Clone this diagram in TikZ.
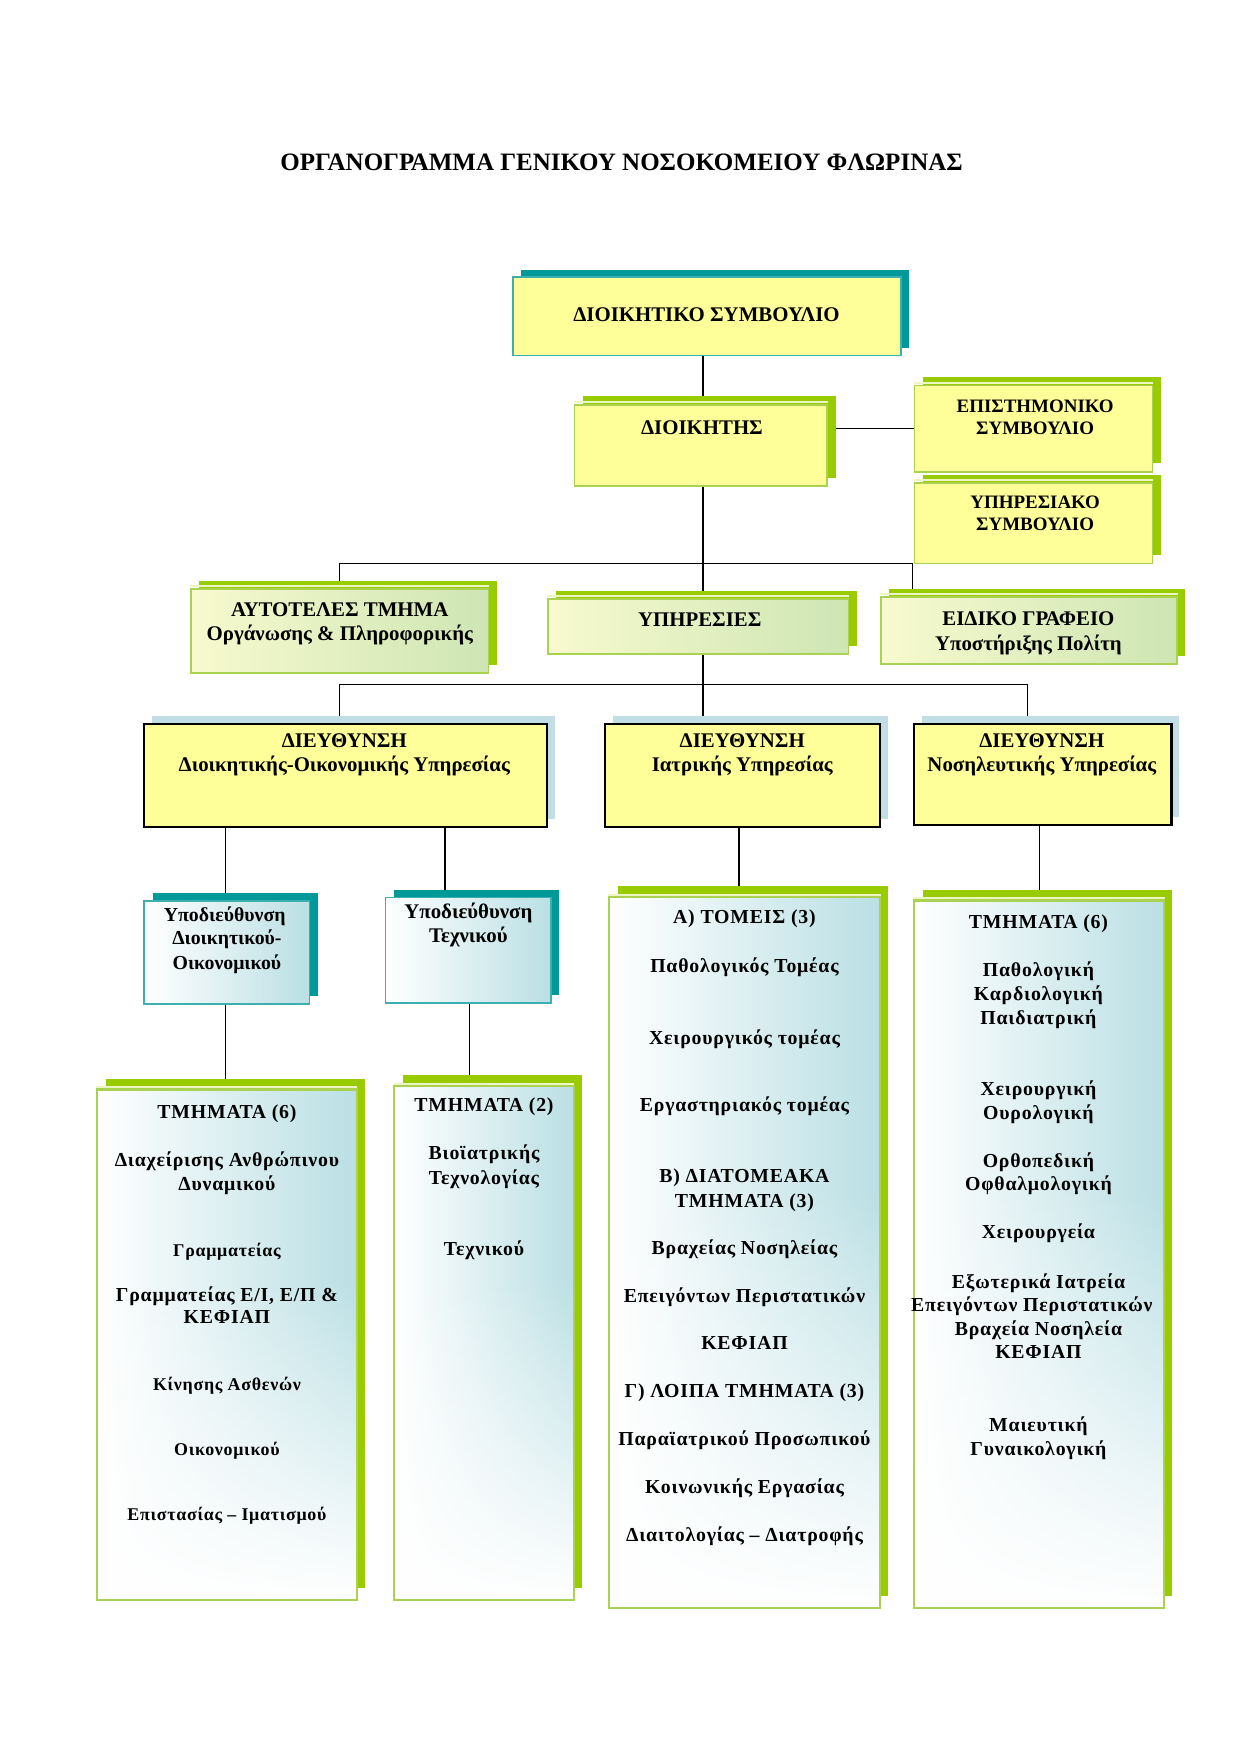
\documentclass[tikz,border=0pt]{standalone}
\usepackage{fontspec}
\setmainfont{Liberation Serif}
\newfontfamily\lowf[LetterSpace=4]{Liberation Serif}
\usetikzlibrary{shadows,fit,fadings,calc}
\pgfdeclarelayer{background}
\pgfsetlayers{background,main}
\definecolor{yel}{RGB}{255,255,153}
\definecolor{tealS}{RGB}{0,153,153}
\definecolor{tealB}{RGB}{60,175,175}
\definecolor{grnS}{RGB}{153,204,0}
\definecolor{grnB}{RGB}{170,210,80}
\definecolor{bluS}{RGB}{192,222,228}
\definecolor{lblue}{RGB}{186,223,228}
\definecolor{pyel}{RGB}{247,250,206}
\definecolor{pgrn}{RGB}{206,229,180}
\definecolor{pale}{RGB}{236,246,196}
\newcounter{tc}
\newcommand\tx[4][]{\stepcounter{tc}\node[txt,#1] (t\arabic{tc}) at (#2,#3) {#4};}
\newcommand\bx[6]{\node[fit={(#2,#3) (#4,#5)}, inner sep=0pt, #6] (#1) {};}
\newcommand\paletop[1]{\draw[pale, line width=1pt] ([yshift=0.95pt]#1.north west) -- ([yshift=0.95pt]#1.north east);}
\newcommand\fadeover[1]{\fill[white, path fading=north] ($(#1.south west)+(1.5,-1.5)$) rectangle ($(#1.east)+(-1.5,-60)$);
  \draw[grnB, line width=0.8pt] (#1.south west) rectangle (#1.north east);}
\begin{document}
\begin{tikzpicture}[x=0.5363pt,y=-0.5363pt,
  txt/.style={anchor=mid, inner sep=0pt, yshift=-1.6pt, font=\bfseries\fontsize{10}{12}\selectfont},
  sm/.style={font=\bfseries\fontsize{9.1}{11}\selectfont},
  smb/.style={font=\bfseries\fontsize{9.5}{11}\selectfont},
  low/.style={font=\lowf\bfseries\fontsize{9.5}{11}\selectfont},
  lows/.style={font=\lowf\bfseries\fontsize{8.6}{10}\selectfont},
  tsh/.style={general shadow={fill=tealS, shadow xshift=4pt, shadow yshift=3.6pt}},
  gsh/.style={general shadow={fill=grnS, shadow xshift=4pt, shadow yshift=4pt}},
  gshl/.style={general shadow={fill=grnS, shadow xshift=4pt, shadow yshift=5.4pt}},
  bsh/.style={general shadow={fill=bluS, shadow xshift=3.8pt, shadow yshift=3.8pt}},
  ybox/.style={fill=yel, line width=0.8pt},
  ygbox/.style={left color=pyel, right color=pgrn, draw=grnB, line width=0.8pt},
  dbox/.style={fill=yel, draw=black, line width=1pt},
  sbox/.style={left color=white, right color=lblue, draw=tealB, line width=0.8pt},
  lbox/.style={left color=white, right color=lblue, draw=grnB, line width=0.8pt},
  conn/.style={draw=black, line width=0.6pt}]
\useasboundingbox (0,0) rectangle (1110,1570);

% title
\tx[font=\bfseries\fontsize{12}{14}\selectfont]{556}{145}{ΟΡΓΑΝΟΓΡΑΜΜΑ ΓΕΝΙΚΟΥ ΝΟΣΟΚΟΜΕΙΟΥ ΦΛΩΡΙΝΑΣ}

% top level boxes
\bx{ds}{459}{248}{806}{318}{ybox, draw=tealB, tsh}
\bx{dk}{514}{362}{740}{435}{ybox, draw=grnB, gsh}
\paletop{dk}
\bx{ep}{818}{345}{1031}{422}{ybox, draw=grnB, gsh}
\paletop{ep}
\bx{ys}{818}{432}{1031}{504}{ybox, draw=grnB, gsh}
\paletop{ys}
\bx{au}{171}{527}{437}{602}{ygbox, gsh}
\paletop{au}
\bx{yp}{490}{536}{759}{585}{ygbox, gsh}
\paletop{yp}
\bx{eid}{788}{534}{1053}{594}{ygbox, gsh}
\paletop{eid}
\bx{d1}{129}{648}{489}{740}{dbox, bsh}
\bx{d2}{541}{648}{787}{740}{dbox, bsh}
\bx{d3}{818}{648}{1048}{738}{dbox, bsh}
\bx{s1}{129}{806}{277}{898}{sbox, tsh}
\bx{s2}{345}{803}{493}{897}{sbox, tsh}
\bx{tl}{87}{975}{319}{1431}{lbox, gshl}
\fadeover{tl}\paletop{tl}
\bx{tt}{353}{972}{513}{1431}{lbox, gshl}
\fadeover{tt}\paletop{tt}
\bx{tm}{545}{803}{787}{1438}{lbox, gshl}
\fadeover{tm}\paletop{tm}
\bx{tr}{818}{806}{1041}{1438}{lbox, gshl}
\fadeover{tr}\paletop{tr}

% connectors
\coordinate (sp) at (629,0);
\coordinate (bus1l) at (304,504);
\coordinate (bus1r) at (816,504);
\coordinate (bus2l) at (304,612);
\coordinate (bus2r) at (919,612);
\coordinate (c1) at (202,0);
\coordinate (c2) at (398,0);
\coordinate (c3) at (661,0);
\coordinate (c4) at (930,0);
\coordinate (c5) at (420,0);
\begin{pgfonlayer}{background}
\draw[conn] (sp |- ds.south) -- (sp |- dk.north);
\draw[conn] (sp |- dk.south) -- (sp |- yp.north);
\draw[conn] (ep.west) -- (ep.west -| dk.east);
\draw[conn] (bus1l) -- (bus1r);
\draw[conn] (bus1l) -- (bus1l |- au.north);
\draw[conn] (bus1r) -- (bus1r |- eid.north);
\draw[conn] (sp |- yp.south) -- (sp |- d2.north);
\draw[conn] (bus2l) -- (bus2r);
\draw[conn] (bus2l) -- (bus2l |- d1.north);
\draw[conn] (bus2r) -- (bus2r |- d3.north);
\draw[conn] (c1 |- d1.south) -- (c1 |- s1.north);
\draw[conn] (c2 |- d1.south) -- (c2 |- s2.north);
\draw[conn] (c3 |- d2.south) -- (c3 |- tm.north);
\draw[conn] (c4 |- d3.south) -- (c4 |- tr.north);
\draw[conn] (c1 |- s1.south) -- (c1 |- tl.north);
\draw[conn] (c5 |- s2.south) -- (c5 |- tt.north);
\end{pgfonlayer}

% texts top
\tx{632}{280}{ΔΙΟΙΚΗΤΙΚΟ ΣΥΜΒΟΥΛΙΟ}
\tx{628}{381}{ΔΙΟΙΚΗΤΗΣ}
\tx[sm]{926}{362}{ΕΠΙΣΤΗΜΟΝΙΚΟ}
\tx[sm]{926}{381}{ΣΥΜΒΟΥΛΙΟ}
\tx[sm]{926}{448}{ΥΠΗΡΕΣΙΑΚΟ}
\tx[sm]{926}{467}{ΣΥΜΒΟΥΛΙΟ}
\tx{304}{544}{ΑΥΤΟΤΕΛΕΣ ΤΜΗΜΑ}
\tx{304}{566}{Οργάνωσης \& Πληροφορικής}
\tx{626}{553}{ΥΠΗΡΕΣΙΕΣ}
\tx{920}{552}{ΕΙΔΙΚΟ ΓΡΑΦΕΙΟ}
\tx{920}{575}{Υποστήριξης Πολίτη}
\tx{308}{661}{ΔΙΕΥΘΥΝΣΗ}
\tx{308}{683}{Διοικητικής-Οικονομικής Υπηρεσίας}
\tx{664}{661}{ΔΙΕΥΘΥΝΣΗ}
\tx{664}{683}{Ιατρικής Υπηρεσίας}
\tx{932}{661}{ΔΙΕΥΘΥΝΣΗ}
\tx{932}{683}{Νοσηλευτικής Υπηρεσίας}
\tx[smb]{201}{817}{Υποδιεύθυνση}
\tx[smb]{203}{838}{Διοικητικού-}
\tx[smb]{203}{860}{Οικονομικού}
\tx{419}{814}{Υποδιεύθυνση}
\tx{419}{836}{Τεχνικού}

% left TMHMATA (6)
\tx[low]{203}{993}{ΤΜΗΜΑΤΑ (6)}
\tx[low]{203}{1036}{Διαχείρισης Ανθρώπινου}
\tx[low]{203}{1058}{Δυναμικού}
\tx[lows]{203}{1117}{Γραμματείας}
\tx[low]{203}{1157}{Γραμματείας Ε/Ι, Ε/Π \&}
\tx[low]{203}{1177}{ΚΕΦΙΑΠ}
\tx[lows]{203}{1237}{Κίνησης Ασθενών}
\tx[lows]{203}{1295}{Οικονομικού}
\tx[lows]{203}{1353}{Επιστασίας – Ιματισμού}

% TMHMATA (2)
\tx[low]{433}{987}{ΤΜΗΜΑΤΑ (2)}
\tx[low]{433}{1030}{Βιοϊατρικής}
\tx[low]{433}{1052}{Τεχνολογίας}
\tx[low]{433}{1116}{Τεχνικού}

% TOMEIS
\tx[low]{666}{819}{Α) ΤΟΜΕΙΣ (3)}
\tx[low]{666}{863}{Παθολογικός Τομέας}
\tx[low]{666}{927}{Χειρουργικός τομέας}
\tx[low]{666}{987}{Εργαστηριακός τομέας}
\tx[low]{666}{1051}{Β) ΔΙΑΤΟΜΕΑΚΑ}
\tx[low]{666}{1073}{ΤΜΗΜΑΤΑ (3)}
\tx[low]{666}{1115}{Βραχείας Νοσηλείας}
\tx[low]{666}{1158}{Επειγόντων Περιστατικών}
\tx[low]{666}{1200}{ΚΕΦΙΑΠ}
\tx[low]{666}{1243}{Γ) ΛΟΙΠΑ ΤΜΗΜΑΤΑ (3)}
\tx[low]{666}{1286}{Παραϊατρικού Προσωπικού}
\tx[low]{666}{1329}{Κοινωνικής Εργασίας}
\tx[low]{666}{1372}{Διαιτολογίας – Διατροφής}

% right TMHMATA (6)
\tx[low]{929}{823}{ΤΜΗΜΑΤΑ (6)}
\tx[low]{929}{866}{Παθολογική}
\tx[low]{929}{888}{Καρδιολογική}
\tx[low]{929}{909}{Παιδιατρική}
\tx[low]{929}{973}{Χειρουργική}
\tx[low]{929}{994}{Ουρολογική}
\tx[low]{929}{1037}{Ορθοπεδική}
\tx[low]{929}{1058}{Οφθαλμολογική}
\tx[low]{929}{1101}{Χειρουργεία}
\tx[low]{929}{1145}{Εξωτερικά Ιατρεία}
\tx[low]{923}{1166}{Επειγόντων Περιστατικών}
\tx[low]{929}{1187}{Βραχεία Νοσηλεία}
\tx[low]{929}{1208}{ΚΕΦΙΑΠ}
\tx[low]{929}{1273}{Μαιευτική}
\tx[low]{929}{1295}{Γυναικολογική}
\end{tikzpicture}
\end{document}
